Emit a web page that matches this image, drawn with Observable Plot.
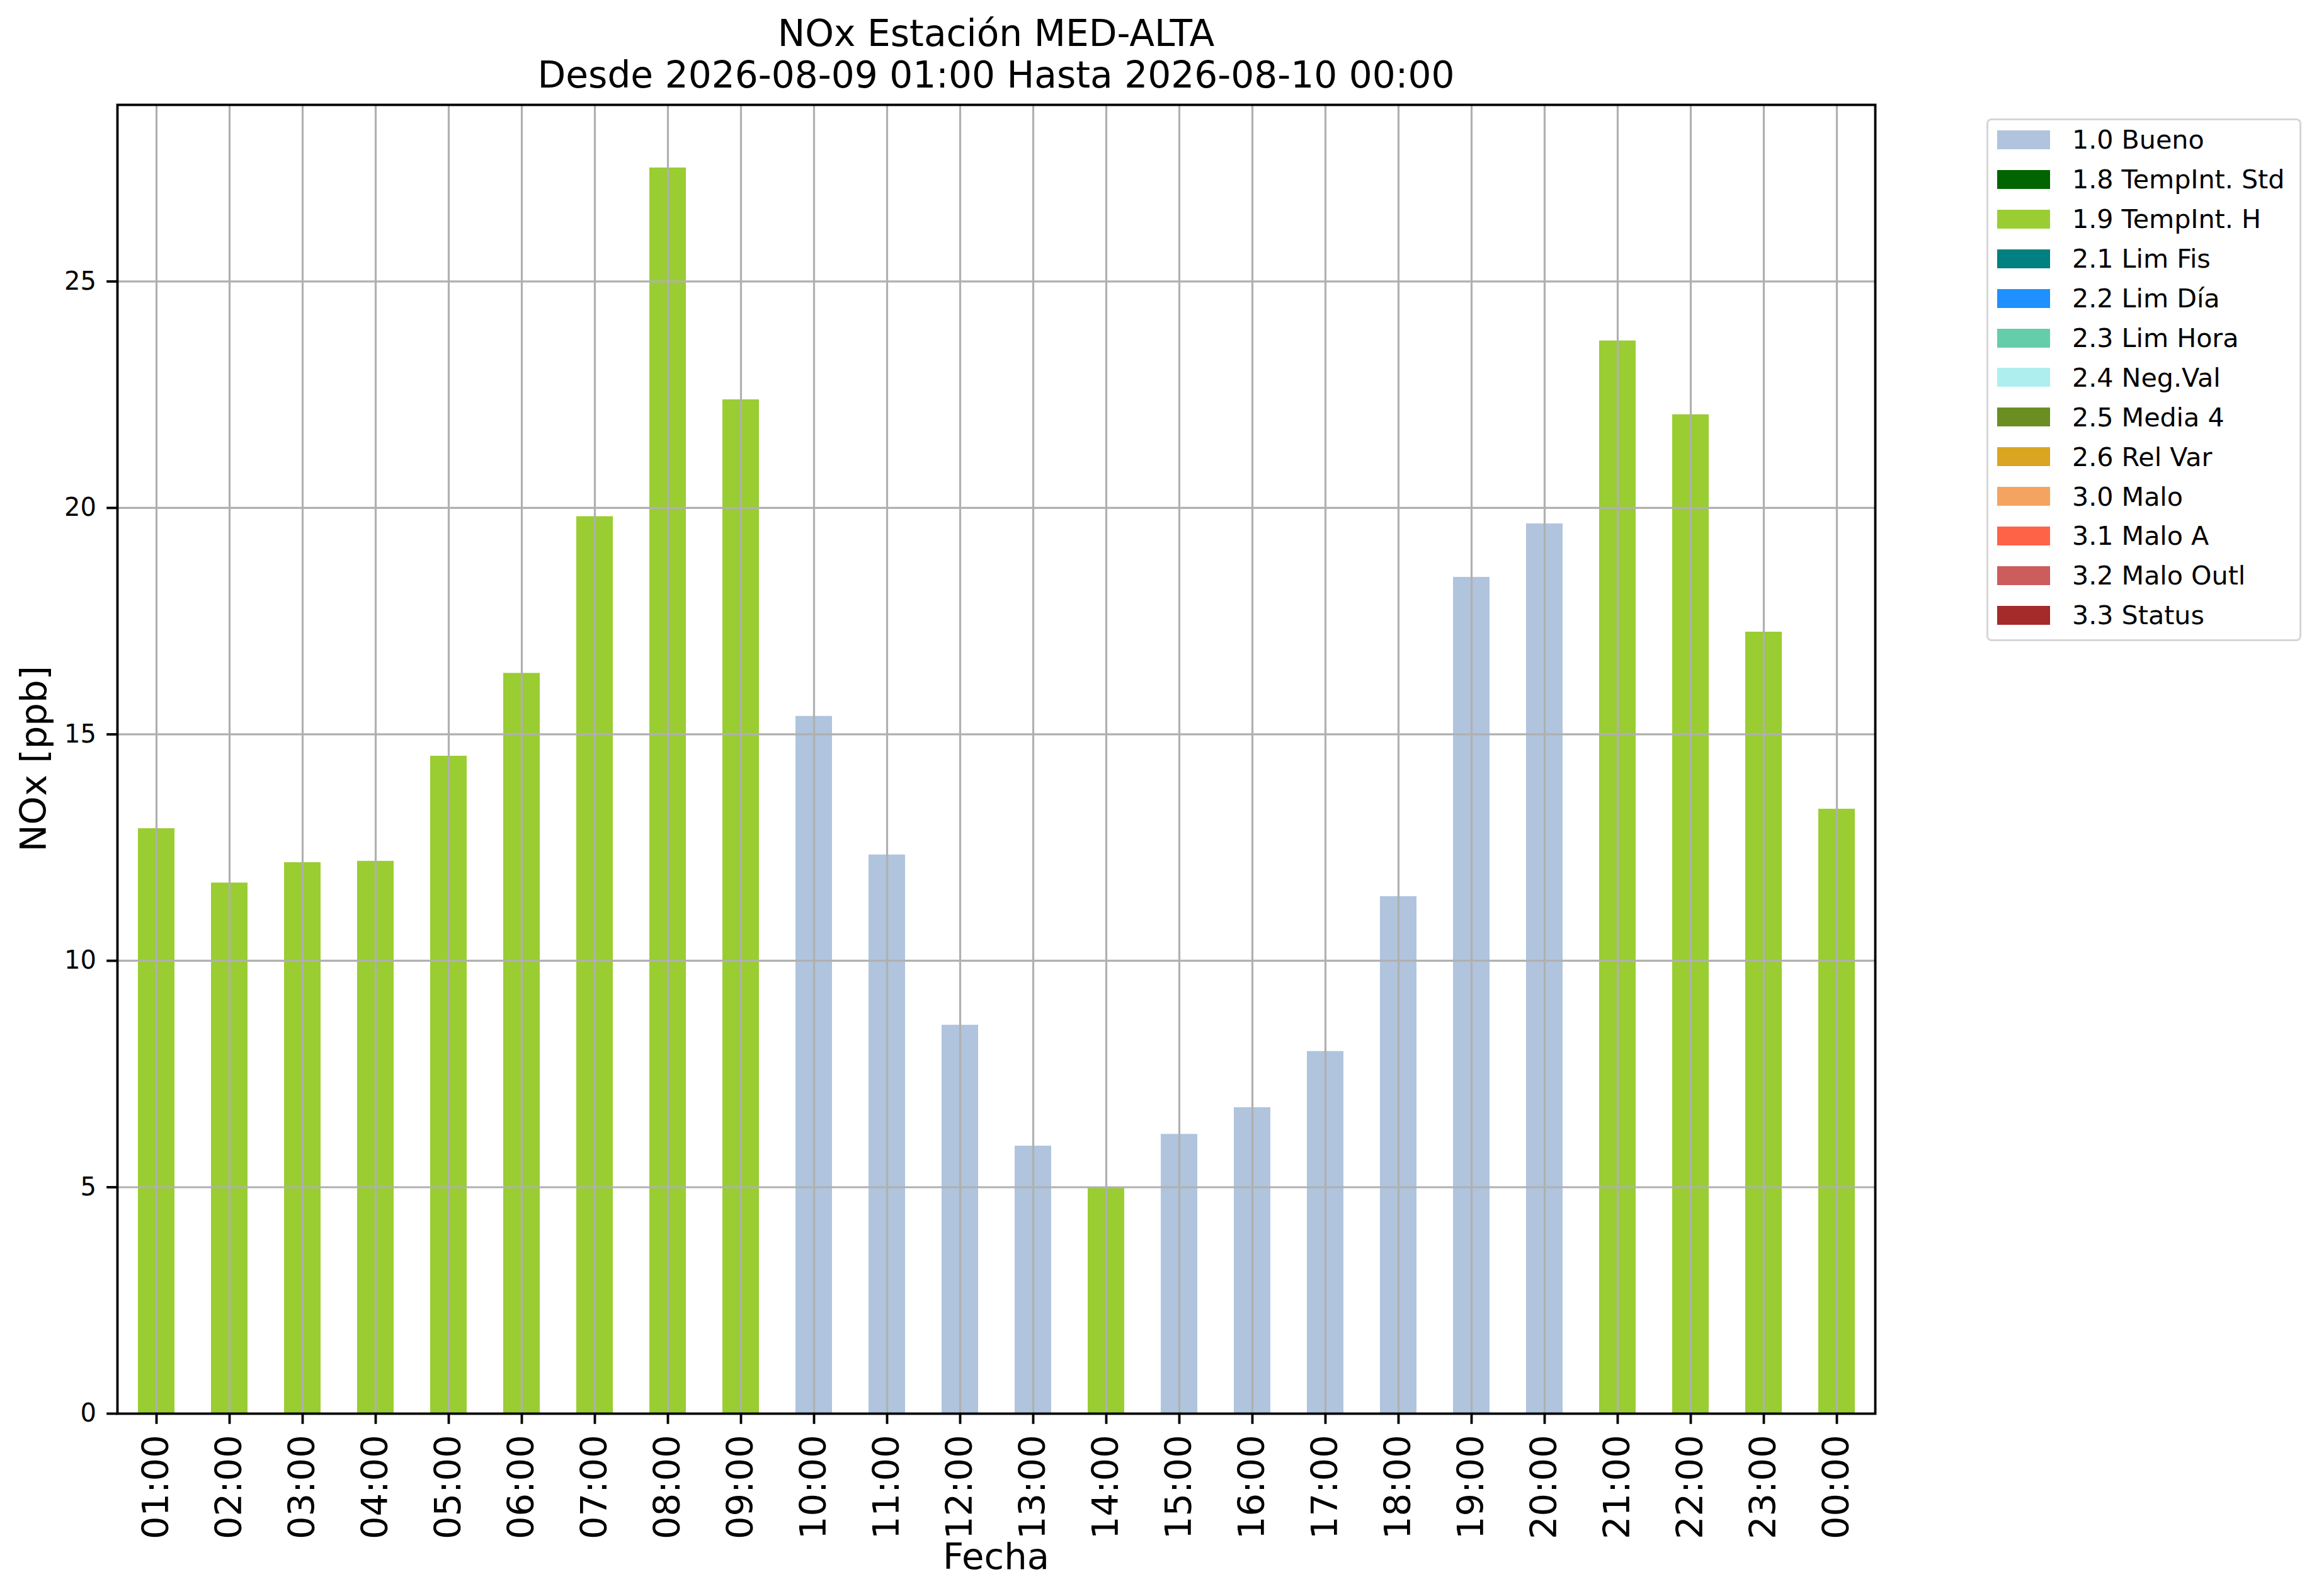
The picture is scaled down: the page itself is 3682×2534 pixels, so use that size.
<!DOCTYPE html>
<html>
<head>
<meta charset="utf-8">
<script src="https://cdn.jsdelivr.net/npm/d3@7"></script>
<script src="https://cdn.jsdelivr.net/npm/@observablehq/plot@0.6"></script>
<style>
  html, body { margin: 0; padding: 0; background: white; }
  #wrap { position: relative; width: 3682px; height: 2534px; font-family: "DejaVu Sans", sans-serif; color: black; overflow: hidden; }
  #wrap svg { position: absolute; left: 0; top: 0; }
  .abs { position: absolute; white-space: nowrap; }
</style>
</head>
<body>
<div id="wrap"></div>
<script>
// ---- data ----
const hours = ["01:00","02:00","03:00","04:00","05:00","06:00","07:00","08:00","09:00","10:00","11:00","12:00",
               "13:00","14:00","15:00","16:00","17:00","18:00","19:00","20:00","21:00","22:00","23:00","00:00"];
const values = [12.92, 11.72, 12.17, 12.20, 14.52, 16.35, 19.81, 27.51, 22.39, 15.40, 12.34, 8.58,
                5.91, 4.99, 6.17, 6.76, 8.00, 11.42, 18.47, 19.65, 23.69, 22.06, 17.26, 13.35];
const flags = ["1.9 TempInt. H","1.9 TempInt. H","1.9 TempInt. H","1.9 TempInt. H","1.9 TempInt. H","1.9 TempInt. H",
               "1.9 TempInt. H","1.9 TempInt. H","1.9 TempInt. H","1.0 Bueno","1.0 Bueno","1.0 Bueno",
               "1.0 Bueno","1.9 TempInt. H","1.0 Bueno","1.0 Bueno","1.0 Bueno","1.0 Bueno",
               "1.0 Bueno","1.0 Bueno","1.9 TempInt. H","1.9 TempInt. H","1.9 TempInt. H","1.9 TempInt. H"];
const flagLabels = ["1.0 Bueno","1.8 TempInt. Std","1.9 TempInt. H","2.1 Lim Fis","2.2 Lim Día","2.3 Lim Hora",
                    "2.4 Neg.Val","2.5 Media 4","2.6 Rel Var","3.0 Malo","3.1 Malo A","3.2 Malo Outl","3.3 Status"];
const flagColors = ["#b0c4de","#006400","#9acd32","#008080","#1e90ff","#66cdaa",
                    "#afeeee","#6b8e23","#daa520","#f4a460","#ff6347","#cd5c5c","#a52a2a"];
const yTicks = [0, 5, 10, 15, 20, 25];
const titleLines = ["NOx Estación MED-ALTA", "Desde 2026-08-09 01:00 Hasta 2026-08-10 00:00"];
const xLabel = "Fecha";
const yLabel = "NOx [ppb]";

const table = hours.map((h, i) => ({hour: h, value: values[i], flag: flags[i]}));

// ---- layout ----
const W = 3682, H = 2534;
const mL = 186, mR = W - 2977, mT = 166, mB = H - 2244;
const lw = 3.84;

const chart = Plot.plot({
  width: W,
  height: H,
  marginLeft: mL,
  marginRight: mR,
  marginTop: mT,
  marginBottom: mB,
  style: {fontFamily: "DejaVu Sans", fontSize: "40px", background: "white", color: "black", overflow: "visible"},
  x: {type: "band", domain: hours, paddingInner: 0.5, paddingOuter: 0.25, label: null},
  y: {domain: [0, 28.9], label: null},
  color: {domain: flagLabels, range: flagColors},
  marks: [
    Plot.barY(table, {x: "hour", y: "value", fill: "flag"}),
    Plot.gridX(hours, {stroke: "#b0b0b0", strokeOpacity: 1, strokeWidth: 3.2}),
    Plot.gridY(yTicks, {stroke: "#b0b0b0", strokeOpacity: 1, strokeWidth: 3.2}),
    Plot.frame({stroke: "black", strokeWidth: lw}),
    Plot.axisX(hours, {tickRotate: -90, tickSize: 16.8, tickPadding: 16.8, fontSize: 57.6, strokeWidth: lw, label: null}),
    Plot.axisY(yTicks, {tickSize: 16.8, tickPadding: 16.8, fontSize: 40, strokeWidth: lw, label: null, tickFormat: d => String(d)})
  ]
});

const wrap = document.getElementById("wrap");
wrap.appendChild(chart);

const plotCx = (mL + (W - mR)) / 2;
const plotCy = (mT + (H - mB)) / 2;

// title
const title = document.createElement("div");
title.className = "abs";
title.style.cssText = `left:${plotCx - 1000}px;top:20px;width:2000px;text-align:center;font-size:58.2px;line-height:66px;`;
title.innerHTML = titleLines.map(t => `<div>${t}</div>`).join("");
wrap.appendChild(title);

// x label
const xl = document.createElement("div");
xl.className = "abs";
xl.style.cssText = `left:${plotCx - 300}px;top:2443px;width:600px;text-align:center;font-size:57.6px;line-height:57.6px;`;
xl.textContent = xLabel;
wrap.appendChild(xl);

// y label
const yl = document.createElement("div");
yl.className = "abs";
const ylW = 600, ylCx = 54;
yl.style.cssText = `left:${ylCx - ylW/2}px;top:${plotCy - 28.8}px;width:${ylW}px;text-align:center;font-size:57.6px;line-height:57.6px;transform:rotate(-90deg);transform-origin:50% 50%;`;
yl.textContent = yLabel;
wrap.appendChild(yl);

// legend
const legBox = document.createElement("div");
legBox.className = "abs";
legBox.style.cssText = `left:3154px;top:188px;width:${3656-3154-7.7}px;height:${1020-188-7.7}px;border:3.84px solid #d6d6d6;border-radius:8px;background:white;`;
wrap.appendChild(legBox);
flagLabels.forEach((lab, i) => {
  const rc = 222 + 62.9 * i;
  const sw = document.createElement("div");
  sw.className = "abs";
  sw.style.cssText = `left:3171px;top:${rc - 15}px;width:84px;height:30px;background:${flagColors[i]};`;
  wrap.appendChild(sw);
  const tx = document.createElement("div");
  tx.className = "abs";
  tx.style.cssText = `left:3290px;top:${rc - 19.6}px;font-size:41.2px;line-height:41.2px;`;
  tx.textContent = lab;
  wrap.appendChild(tx);
});
</script>
</body>
</html>
